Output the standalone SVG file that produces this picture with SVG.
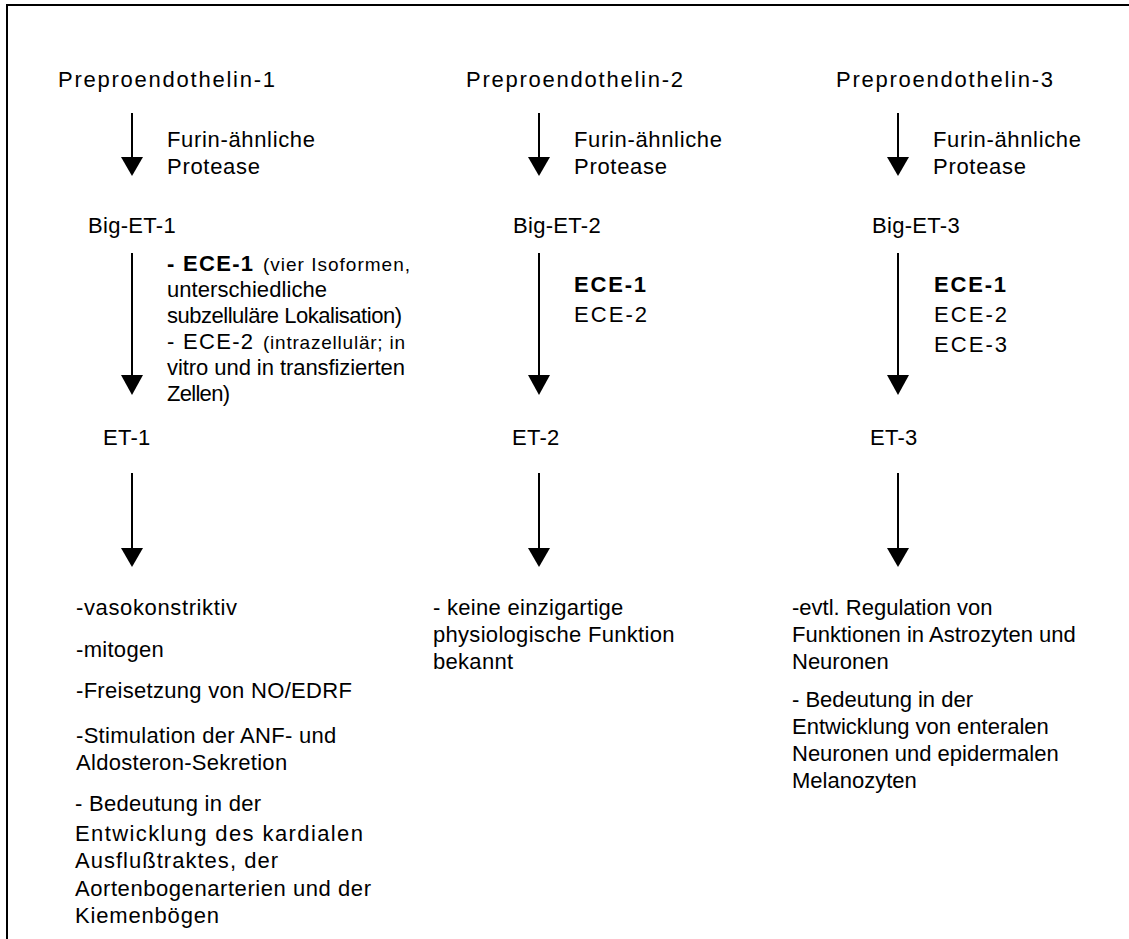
<svg xmlns="http://www.w3.org/2000/svg" width="1129" height="939" viewBox="0 0 1129 939">
<defs>
<style>
text{font-family:"Liberation Sans",Arial,sans-serif;font-size:22px;fill:#000;letter-spacing:0.3px}
text[textLength]{letter-spacing:0}
#func3 text{letter-spacing:0}
.b{font-weight:bold}
.s{font-size:19px}
.conn line{stroke:#000;stroke-width:2}
.conn path{fill:#000}
</style>
</defs>
<rect width="1129" height="939" fill="#fff"/>
<polyline points="7,939 7,5 1129,5" fill="none" stroke="#000" stroke-width="2"/>
<g id="connectors" class="conn">
<line x1="132" y1="113" x2="132" y2="158"/>
<line x1="132" y1="253" x2="132" y2="376"/>
<line x1="132" y1="473" x2="132" y2="549"/>
<line x1="539" y1="113" x2="539" y2="158"/>
<line x1="539" y1="253" x2="539" y2="376"/>
<line x1="539" y1="473" x2="539" y2="549"/>
<line x1="898" y1="113" x2="898" y2="158"/>
<line x1="898" y1="253" x2="898" y2="376"/>
<line x1="898" y1="473" x2="898" y2="549"/>
<path d="M121,157 L143,157 L132,176 Z"/><path d="M121,375 L143,375 L132,395 Z"/><path d="M121,548 L143,548 L132,567 Z"/>
<path d="M528,157 L550,157 L539,176 Z"/><path d="M528,375 L550,375 L539,395 Z"/><path d="M528,548 L550,548 L539,567 Z"/>
<path d="M887,157 L909,157 L898,176 Z"/><path d="M887,375 L909,375 L898,395 Z"/><path d="M887,548 L909,548 L898,567 Z"/>
</g>
<g id="prepro1"><text x="58" y="87" textLength="217">Preproendothelin-1</text></g>
<g id="prepro2"><text x="466" y="87" textLength="217">Preproendothelin-2</text></g>
<g id="prepro3"><text x="836" y="87" textLength="217">Preproendothelin-3</text></g>
<g id="furin1"><text x="167" y="147" textLength="148">Furin-ähnliche</text><text x="167" y="174" textLength="93">Protease</text></g>
<g id="furin2"><text x="574" y="147" textLength="148">Furin-ähnliche</text><text x="574" y="174" textLength="93">Protease</text></g>
<g id="furin3"><text x="933" y="147" textLength="148">Furin-ähnliche</text><text x="933" y="174" textLength="93">Protease</text></g>
<g id="big1"><text x="88" y="233">Big-ET-1</text></g>
<g id="big2"><text x="513" y="233">Big-ET-2</text></g>
<g id="big3"><text x="872" y="233">Big-ET-3</text></g>
<g id="ece1">
<text x="167" y="271" class="b" textLength="86">- ECE-1</text>
<text x="263" y="271" class="s" textLength="147">(vier Isoformen,</text>
<text x="167" y="297" textLength="160">unterschiedliche</text>
<text x="167" y="323" textLength="235">subzelluläre Lokalisation)</text>
<text x="167" y="349" textLength="86">- ECE-2</text>
<text x="263" y="349" class="s" textLength="142">(intrazellulär; in</text>
<text x="167" y="375" textLength="238">vitro und in transfizierten</text>
<text x="167" y="401" textLength="63">Zellen)</text>
</g>
<g id="ece2"><text x="574" y="292" class="b" textLength="72">ECE-1</text><text x="574" y="322" textLength="73">ECE-2</text></g>
<g id="ece3"><text x="934" y="292" class="b" textLength="72">ECE-1</text><text x="934" y="322" textLength="73">ECE-2</text><text x="934" y="352" textLength="73">ECE-3</text></g>
<g id="et1"><text x="103" y="445">ET-1</text></g>
<g id="et2"><text x="512" y="445">ET-2</text></g>
<g id="et3"><text x="870" y="445">ET-3</text></g>
<g id="func1">
<text x="76" y="615" textLength="161">-vasokonstriktiv</text>
<text x="76" y="657">-mitogen</text>
<text x="76" y="698">-Freisetzung von NO/EDRF</text>
<text x="76" y="743">-Stimulation der ANF- und</text>
<text x="76" y="770">Aldosteron-Sekretion</text>
<text x="75" y="811">- Bedeutung in der</text>
<text x="75" y="841" textLength="288">Entwicklung des kardialen</text>
<text x="75" y="868" textLength="203">Ausflußtraktes, der</text>
<text x="75" y="896" textLength="296">Aortenbogenarterien und der</text>
<text x="75" y="923" textLength="144">Kiemenbögen</text>
</g>
<g id="func2">
<text x="433" y="615">- keine einzigartige</text>
<text x="433" y="642">physiologische Funktion</text>
<text x="433" y="669">bekannt</text>
</g>
<g id="func3">
<text x="792" y="615">-evtl. Regulation von</text>
<text x="792" y="642">Funktionen in Astrozyten und</text>
<text x="792" y="669">Neuronen</text>
<text x="792" y="707">- Bedeutung in der</text>
<text x="792" y="734">Entwicklung von enteralen</text>
<text x="792" y="761">Neuronen und epidermalen</text>
<text x="792" y="788">Melanozyten</text>
</g>
</svg>
